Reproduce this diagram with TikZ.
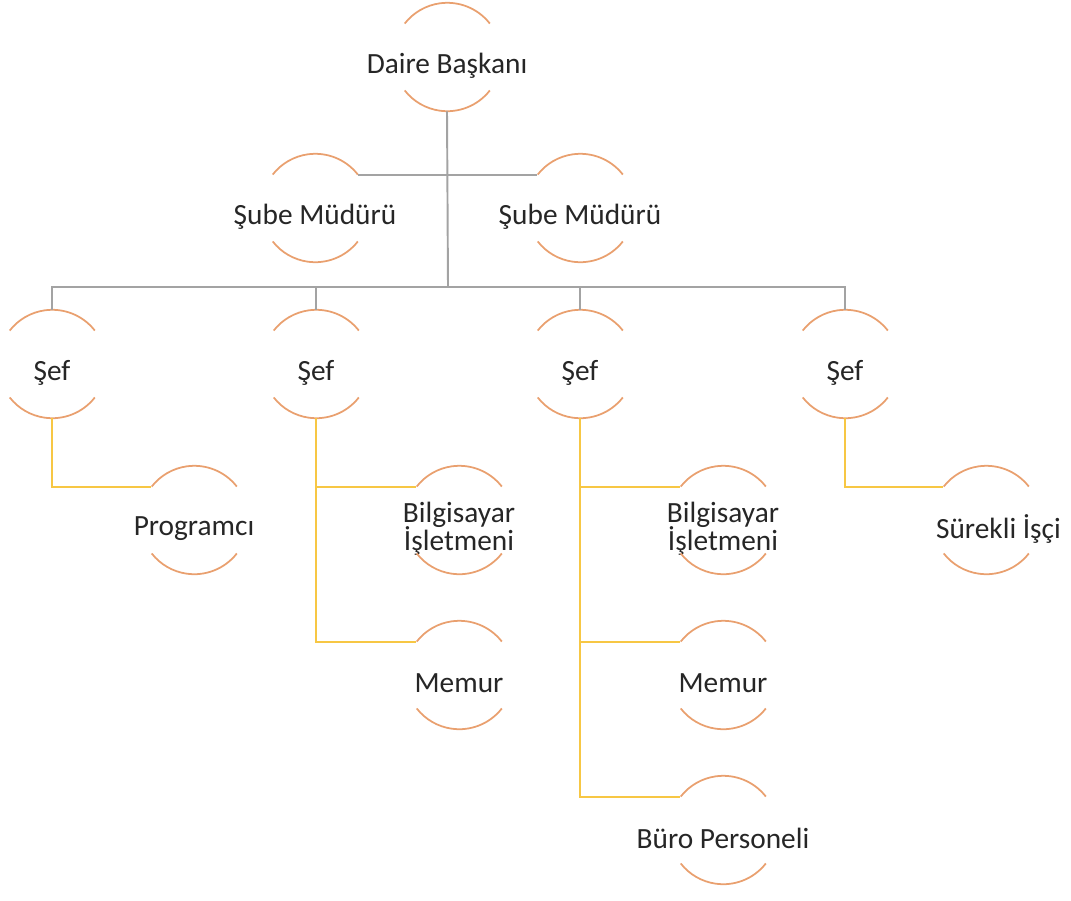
\documentclass[tikz,border=0pt]{standalone}
\usepackage{fontspec}
\setmainfont{Carlito}
\usepackage{xcolor}
\usepackage{tikz}
\usetikzlibrary{positioning}

\definecolor{ringorange}{HTML}{E9A06F}
\definecolor{linegray}{HTML}{A3A3A3}
\definecolor{lineyellow}{HTML}{F7C744}

\begin{document}
\begin{tikzpicture}[
    x=0.02cm, y=0.02cm,
    ring/.style={
        circle,
        minimum size=2.16cm,
        inner sep=0pt
    },
    lab/.style={
        font=\fontsize{16.7}{20}\selectfont,
        text=black!85,
        align=center,
        yshift=-0.17cm
    },
    arcline/.style={draw=ringorange, line width=1pt},
    grayline/.style={draw=linegray, line width=1.1pt},
    yellowline/.style={draw=lineyellow, line width=1.1pt}
]
\useasboundingbox (0,0) rectangle (1071,-900);

% top levels
\node[ring, label={[lab]center:Daire Başkanı}] (daire) at (447,-57) {};
\node[ring, label={[lab]center:Şube Müdürü}] (sube1) at (315,-208) {};
\node[ring, label={[lab]center:Şube Müdürü}] (sube2) at (580,-208) {};

% chiefs
\node[ring, label={[lab]center:Şef}] (sef1) at (52,-364) {};
\node[ring, label={[lab]center:Şef}] (sef2) at (316,-364) {};
\node[ring, label={[lab]center:Şef}] (sef3) at (580,-364) {};
\node[ring, label={[lab]center:Şef}] (sef4) at (845,-364) {};

% staff
\node[ring, label={[lab]center:Programcı}] (prog) at (194,-520) {};
\node[ring, label={[lab]center:{Bilgisayar\\[-4pt]İşletmeni}}] (bilg2) at (459,-520) {};
\node[ring, label={[lab]center:Memur}] (memur2) at (459,-675) {};
\node[ring, label={[lab]center:{Bilgisayar\\[-4pt]İşletmeni}}] (bilg3) at (723,-520) {};
\node[ring, label={[lab]center:Memur}] (memur3) at (723,-675) {};
\node[ring, label={[lab]center:Büro Personeli}] (buro) at (723,-830) {};
\node[ring, label={[lab, xshift=0.25cm]center:Sürekli İşçi}] (surekli) at (986,-520) {};

\foreach \n in {daire,sube1,sube2,sef1,sef2,sef3,sef4,prog,bilg2,memur2,bilg3,memur3,buro,surekli} {
    \draw[arcline] (\n.38) arc[start angle=38, end angle=142, radius=1.08cm];
    \draw[arcline] (\n.-38) arc[start angle=-38, end angle=-142, radius=1.08cm];
}

% gray links
\coordinate (hub) at (448,-287);
\draw[grayline] (daire.south) -- (hub);
\draw[grayline] (sube1.38) -- (sube2.142);
\draw[grayline] (sef1.north) |- (hub) -| (sef4.north);
\draw[grayline] (sef2.north) -- (sef2.north |- hub);
\draw[grayline] (sef3.north) -- (sef3.north |- hub);

% yellow links
\draw[yellowline] (sef1.south) |- (prog.142);
\draw[yellowline] (sef2.south) |- (memur2.142);
\draw[yellowline] (sef2.south |- bilg2.142) -- (bilg2.142);
\draw[yellowline] (sef3.south) |- (buro.142);
\draw[yellowline] (sef3.south |- bilg3.142) -- (bilg3.142);
\draw[yellowline] (sef3.south |- memur3.142) -- (memur3.142);
\draw[yellowline] (sef4.south) |- (surekli.142);
\end{tikzpicture}
\end{document}
